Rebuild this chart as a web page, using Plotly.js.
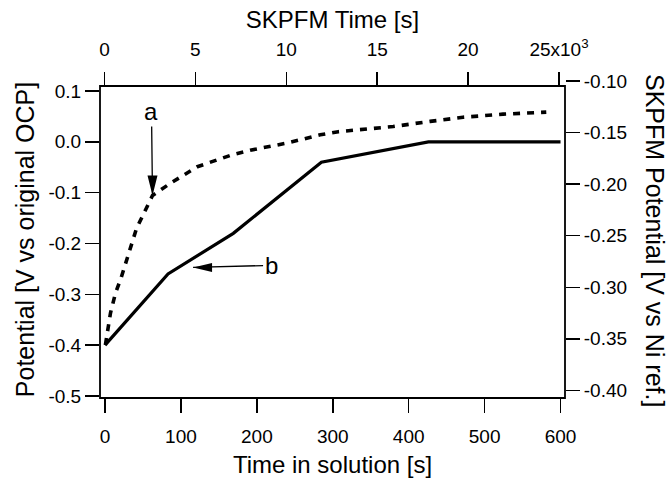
<!DOCTYPE html>
<html><head><meta charset="utf-8">
<script src="https://cdn.plot.ly/plotly-3.0.1.min.js"></script>
<style>html,body{margin:0;padding:0;background:#fff}#chart{width:668px;height:480px}</style>
</head><body><div id="chart"></div>
<script>
// Curve b: time in solution [s] vs potential [V vs original OCP]
const solutionTime = [0, 83, 169, 285, 426, 600];
const solutionPotential = [-0.40, -0.26, -0.18, -0.04, 0.00, 0.00];
// Curve a: SKPFM time [s] vs SKPFM potential [V vs Ni ref.]
const skpfmTime = [50, 330, 600, 930, 1760, 2640, 3630, 5110, 6920, 8020, 10050, 11870, 12860, 15880, 17910, 19720, 21920, 24300];
const skpfmPotential = [-0.356, -0.325, -0.306, -0.290, -0.243, -0.211, -0.199, -0.183, -0.172, -0.167, -0.160, -0.152, -0.149, -0.144, -0.139, -0.135, -0.132, -0.130];

// Tick labels
const leftTickVals = [0.1, 0.0, -0.1, -0.2, -0.3, -0.4, -0.5];
const leftTickText = ["0.1", "0.0", "-0.1", "-0.2", "-0.3", "-0.4", "-0.5"];
const rightTickVals = [-0.10, -0.15, -0.20, -0.25, -0.30, -0.35, -0.40];
const rightTickText = ["-0.10", "-0.15", "-0.20", "-0.25", "-0.30", "-0.35", "-0.40"];
const bottomTickVals = [0, 100, 200, 300, 400, 500, 600];
const topTickVals = [0, 5000, 10000, 15000, 20000, 25000];
const topTickText = ["0", "5", "10", "15", "20", "25x10<sup>3</sup>"];

// Annotation anchors (labels a and b)
const labelA = {text: "a", x: 2640, y: -0.211};
const labelB = {text: "b", x: 116, y: -0.247};

const FONT = "Liberation Sans, Arial, Helvetica, sans-serif";
const tickCommon = {
  ticks: "outside", ticklen: 14, tickwidth: 1.5, tickcolor: "#000",
  showline: false, zeroline: false, showgrid: false,
  tickfont: {family: FONT, size: 19, color: "#000"}
};

const traces = [
  {x: solutionTime, y: solutionPotential, xaxis: "x", yaxis: "y", mode: "lines",
   line: {color: "#000", width: 3.2}, hoverinfo: "skip"},
  {x: skpfmTime, y: skpfmPotential, xaxis: "x2", yaxis: "y2", mode: "lines",
   line: {color: "#000", width: 3.6, dash: "7px,7px"}, hoverinfo: "skip"}
];

const layout = {
  width: 668, height: 480,
  margin: {l: 100, r: 103, t: 81, b: 82, pad: 0},
  paper_bgcolor: "#fff", plot_bgcolor: "#fff",
  showlegend: false,
  font: {family: FONT, size: 19, color: "#000"},
  xaxis: Object.assign({}, tickCommon, {
    range: [-6.6, 605.9], tickvals: bottomTickVals, ticklabelstandoff: 7,
    title: {text: "Time in solution [s]", font: {family: FONT, size: 24}, standoff: 10}
  }),
  yaxis: Object.assign({}, tickCommon, {
    range: [-0.504, 0.1197], tickvals: leftTickVals, ticktext: leftTickText,
    title: {text: "Potential [V vs original OCP]", font: {family: FONT, size: 25}, standoff: 6}
  }),
  xaxis2: Object.assign({}, tickCommon, {
    overlaying: "x", side: "top", anchor: "free", position: 0.9842,
    range: [-247, 25330], tickvals: topTickVals, ticktext: topTickText, ticklabelstandoff: 8,
    title: {text: "SKPFM Time [s]", font: {family: FONT, size: 24}, standoff: 0}
  }),
  yaxis2: Object.assign({}, tickCommon, {
    overlaying: "y", side: "right", anchor: "x",
    range: [-0.4075, -0.0998], tickvals: rightTickVals, ticktext: rightTickText
  }),
  shapes: [
    {type: "rect", xref: "paper", yref: "paper", x0: 0, x1: 1, y0: 0, y1: 0.9842,
     line: {color: "#000", width: 1.8}, layer: "above"},
    {type: "path", xref: "x2", yref: "y2", xsizemode: "pixel", ysizemode: "pixel",
     xanchor: labelA.x, yanchor: labelA.y, path: "M0,0 L-5,20 L5,20 Z",
     fillcolor: "#000", line: {width: 0}},
    {type: "path", xref: "x", yref: "y", xsizemode: "pixel", ysizemode: "pixel",
     xanchor: labelB.x, yanchor: labelB.y, path: "M0,0 L19,4.5 L19,-4.5 Z",
     fillcolor: "#000", line: {width: 0}}
  ],
  annotations: [
    {text: labelA.text, x: labelA.x, y: labelA.y, xref: "x2", yref: "y2",
     showarrow: true, arrowhead: 0, arrowwidth: 1.3, arrowcolor: "#000",
     ax: -1, ay: -84, font: {family: FONT, size: 24, color: "#000"}},
    {text: labelB.text, x: labelB.x, y: labelB.y, xref: "x", yref: "y",
     showarrow: true, arrowhead: 0, arrowwidth: 1.3, arrowcolor: "#000",
     ax: 78, ay: -2, font: {family: FONT, size: 24, color: "#000"}},
    {text: "SKPFM Potential [V vs Ni ref.]", xref: "paper", yref: "paper",
     x: (655 - 100) / 465, y: (398 - 240) / 317, xanchor: "center", yanchor: "middle",
     textangle: 90, showarrow: false, font: {family: FONT, size: 25, color: "#000"}}
  ]
};

Plotly.newPlot("chart", traces, layout, {displayModeBar: false, staticPlot: true});
</script>
</body></html>
